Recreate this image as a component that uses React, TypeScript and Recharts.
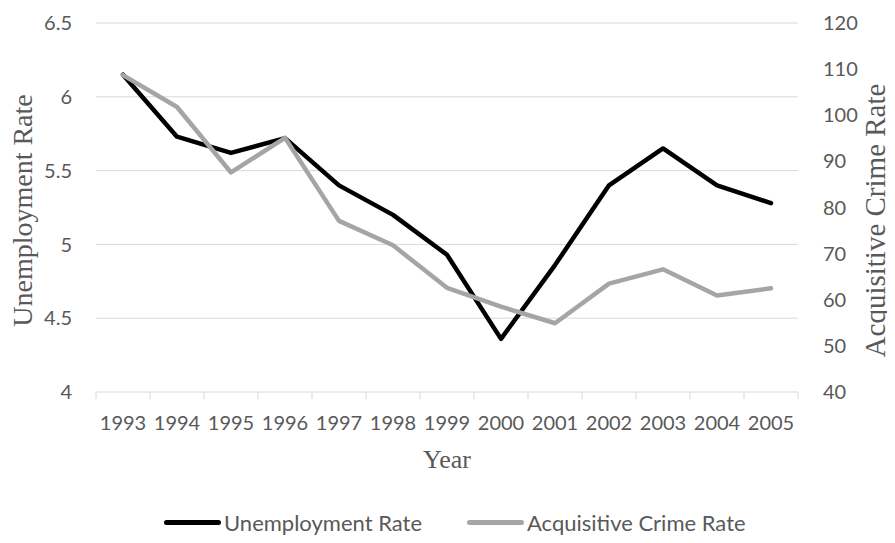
import { LineChart, Line, XAxis, YAxis, CartesianGrid } from 'recharts';

const years = ['1993', '1994', '1995', '1996', '1997', '1998', '1999', '2000', '2001', '2002', '2003', '2004', '2005'];
const unemploymentRate = [6.15, 5.73, 5.62, 5.72, 5.4, 5.2, 4.93, 4.36, 4.86, 5.4, 5.65, 5.4, 5.28];
const crimeRate = [108.7, 101.8, 87.6, 95.1, 77.1, 71.8, 62.6, 58.5, 54.9, 63.5, 66.6, 60.9, 62.5];
const leftTicks = [4, 4.5, 5, 5.5, 6, 6.5];
const rightTicks = [40, 50, 60, 70, 80, 90, 100, 110, 120];

// each year sits in the middle of its own slot, like an Excel category axis
const data = years.map((year, i) => ({
  pos: i + 0.5,
  year,
  unemployment: unemploymentRate[i],
  crime: crimeRate[i],
}));

const centers = years.map((_, i) => i + 0.5);
const bounds = Array.from({ length: years.length + 1 }, (_, i) => i);

const GRID = '#d9d9d9';
const TEXT = '#595959';
const BLACK = '#000000';
const GREY = '#a5a5a5';
const sans = 'Lato, "Open Sans", sans-serif';
const serif = '"Liberation Serif", "Times New Roman", serif';

const tickStyle = { fill: TEXT, fontSize: 20, fontFamily: sans };

// rotated axis title, placed against the outer edge of its axis box
function VTitle({ viewBox, value, side, size, shift, inset = 0 }: any) {
  const vb = viewBox || { x: 0, y: 0, width: 0, height: 0 };
  const cx = side === 'left' ? vb.x + inset : vb.x + vb.width - inset;
  const cy = vb.y + vb.height / 2 + shift;
  return (
    <text
      x={cx}
      y={cy}
      transform={`rotate(-90 ${cx} ${cy})`}
      textAnchor="middle"
      dominantBaseline="central"
      fill={TEXT}
      fontSize={size}
      fontFamily={serif}
    >
      {value}
    </text>
  );
}

function LegendItem({ color, label, left }: { color: string; label: string; left: number }) {
  return (
    <div
      style={{
        position: 'absolute',
        left,
        top: 507,
        height: 30,
        display: 'flex',
        alignItems: 'center',
        fontFamily: sans,
        fontSize: 22,
        color: TEXT,
        whiteSpace: 'nowrap',
      }}
    >
      <span style={{ display: 'inline-block', width: 57, height: 5, borderRadius: 3, background: color, marginRight: 3 }} />
      {label}
    </div>
  );
}

export default function App() {
  return (
    <div style={{ position: 'relative', width: 895, height: 543, marginLeft: -8, marginTop: -8 }}>
      <LineChart width={895} height={543} data={data} margin={{ top: 23, right: 17, left: 22, bottom: 120 }}>
        <CartesianGrid xAxisId="x" yAxisId="left" vertical={false} stroke={GRID} strokeWidth={1} />
        <XAxis
          xAxisId="bounds"
          type="number"
          dataKey="pos"
          domain={[0, years.length]}
          ticks={bounds}
          tickFormatter={() => ''}
          axisLine={false}
          tickLine={{ stroke: GRID }}
          tickSize={7}
          height={1}
        />
        <XAxis
          xAxisId="x"
          type="number"
          dataKey="pos"
          domain={[0, years.length]}
          ticks={centers}
          interval={0}
          tickFormatter={(v) => years[Math.floor(v)]}
          tick={tickStyle}
          tickLine={false}
          tickSize={0}
          tickMargin={23}
          axisLine={false}
          height={30}
          label={{
            value: 'Year',
            position: 'bottom',
            offset: 27,
            style: { fill: TEXT, fontSize: 26, fontFamily: serif, textAnchor: 'middle' },
          }}
        />
        <YAxis
          yAxisId="left"
          domain={[4, 6.5]}
          ticks={leftTicks}
          tickFormatter={(v) => String(v)}
          tick={tickStyle}
          axisLine={false}
          tickLine={false}
          tickSize={0}
          tickMargin={24}
          width={74}
          label={{
            content: (p: any) => <VTitle viewBox={p.viewBox} value="Unemployment Rate" side="left" size={28} shift={3} />,
          }}
        />
        <YAxis
          yAxisId="right"
          orientation="right"
          domain={[40, 120]}
          ticks={rightTicks}
          tick={{ ...tickStyle, textAnchor: 'start' }}
          axisLine={false}
          tickLine={false}
          tickSize={0}
          tickMargin={25}
          width={80}
          label={{
            content: (p: any) => (
              <VTitle viewBox={p.viewBox} value="Acquisitive Crime Rate" side="right" size={29} shift={13} inset={3} />
            ),
          }}
        />
        {/* invisible series so the boundary axis gets its domain */}
        <Line
          xAxisId="bounds"
          yAxisId="left"
          dataKey="unemployment"
          stroke="none"
          dot={false}
          activeDot={false}
          isAnimationActive={false}
        />
        <Line
          xAxisId="x"
          yAxisId="left"
          dataKey="unemployment"
          type="linear"
          stroke={BLACK}
          strokeWidth={4.5}
          strokeLinejoin="round"
          strokeLinecap="round"
          dot={false}
          activeDot={false}
          isAnimationActive={false}
        />
        <Line
          xAxisId="x"
          yAxisId="right"
          dataKey="crime"
          type="linear"
          stroke={GREY}
          strokeWidth={4.5}
          strokeLinejoin="round"
          strokeLinecap="round"
          dot={false}
          activeDot={false}
          isAnimationActive={false}
        />
      </LineChart>
      <LegendItem color={BLACK} label="Unemployment Rate" left={164} />
      <LegendItem color={GREY} label="Acquisitive Crime Rate" left={467} />
    </div>
  );
}
